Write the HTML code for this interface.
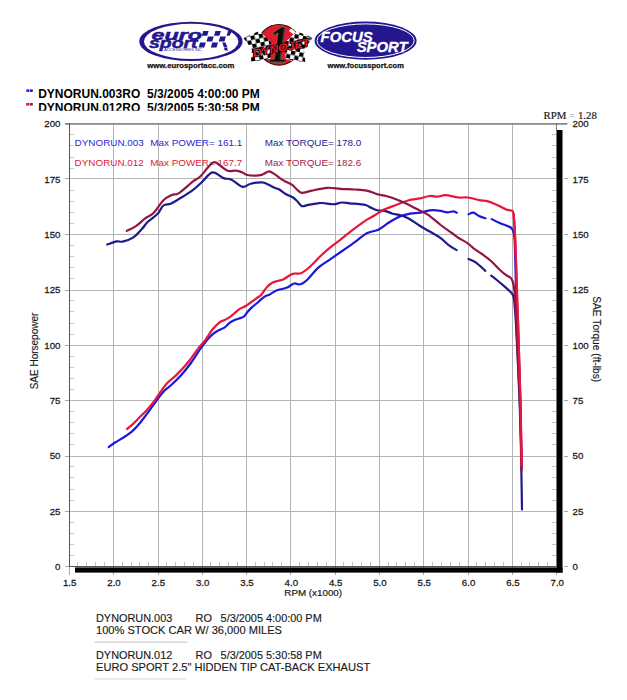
<!DOCTYPE html>
<html><head><meta charset="utf-8"><title>Dyno Chart</title>
<style>
html,body{margin:0;padding:0;background:#fff;}
body{width:627px;height:700px;overflow:hidden;position:relative;}
svg{position:absolute;left:0;top:0;display:block;}
</style></head><body>
<svg width="627" height="700" viewBox="0 0 627 700" font-family="'Liberation Sans', Arial, sans-serif">
<rect width="627" height="700" fill="#fff"/>
<g id="logos">
<!-- eurosport -->
<ellipse cx="190.9" cy="41.4" rx="51.6" ry="19.7" fill="#24168e"/>
<ellipse cx="191.2" cy="41.4" rx="47.2" ry="17.6" fill="#fff"/>
<g fill="#24168e" stroke="#24168e" stroke-width="0.5" font-weight="bold" font-style="italic" font-family="'Liberation Sans', sans-serif">
<text x="151.6" y="39.6" font-size="15" textLength="50.5" lengthAdjust="spacingAndGlyphs">euro</text>
<text x="149" y="47.8" font-size="14.5" textLength="48.5" lengthAdjust="spacingAndGlyphs">sport</text>
</g>
<text x="164" y="51" font-size="2.8" fill="#24168e" textLength="38" lengthAdjust="spacingAndGlyphs">ACCESSORIES INC</text>
<g fill="#24168e">
<polygon points="201.8,35.8 203.2,31.1 208.6,31.1 207.2,35.8"/>
<polygon points="214,35.8 215.4,31.1 220.8,31.1 219.4,35.8"/>
<polygon points="226.6,35.8 228,31 232.2,31 229.5,35.8"/>
<polygon points="206.5,41.5 208,36.5 213.7,36.5 212.2,41.5"/>
<polygon points="218.7,41.5 220.2,36.5 225.9,36.5 224.4,41.5"/>
<polygon points="198.6,47.6 200.1,42.6 205.8,42.6 204.3,47.6"/>
<polygon points="210.8,47.6 212.3,42.6 218,42.6 216.5,47.6"/>
<polygon points="222.3,42.6 225.5,42.6 227.6,47.6 224,47.6"/>
<polygon points="224,48 227.2,48 228,50.5 224.8,50.5"/>
</g>
<text x="147.3" y="68.4" font-size="7.7" font-weight="bold" fill="#111" stroke="#111" stroke-width="0.25" textLength="87" lengthAdjust="spacingAndGlyphs">www.eurosportacc.com</text>
<!-- dynojet -->
<defs><clipPath id="ov"><ellipse cx="279" cy="44.8" rx="21" ry="20.2"/></clipPath>
<pattern id="chk" width="8.4" height="8.4" patternUnits="userSpaceOnUse"><rect width="8.4" height="8.4" fill="#fff"/><rect width="4.2" height="4.2" fill="#000"/><rect x="4.2" y="4.2" width="4.2" height="4.2" fill="#000"/></pattern></defs>
<ellipse cx="279" cy="44.8" rx="21.1" ry="20.3" fill="#e01a2e" stroke="#3a0a0a" stroke-width="1.1"/>
<g clip-path="url(#ov)" fill="#fff">
<polygon points="256,33 262,26 266,27 259,36"/>
<polygon points="292,27 298,31 296,36 289,31"/>
<polygon points="258,56 264,52 266,57 261,61"/>
<polygon points="290,60 296,53 299,56 293,63"/>
</g>
<polygon points="245,34 262,30.5 271,44 267,60 247,59 251,47" fill="url(#chk)" transform="translate(0.5,1) rotate(-12 258 45)"/>
<polygon points="312,33.5 295,30.5 286,44 290,60 310,59 306,47" fill="url(#chk)" transform="translate(-1.5,1) rotate(12 298 45)"/>
<text x="0" y="0" font-size="50" font-weight="bold" font-style="italic" font-family="'Liberation Serif', serif" fill="#0a0a0a" stroke="#2f6a3a" stroke-width="0.8" text-anchor="middle" transform="translate(278.5,61.8) scale(0.85,1.05)">1</text>
<text x="281" y="51.5" font-size="11" font-weight="bold" font-style="italic" fill="#e01a2e" stroke="#000" stroke-width="1.4" paint-order="stroke" text-anchor="middle" transform="rotate(-11 281 47)" textLength="58" lengthAdjust="spacingAndGlyphs">DYNOJET</text>
<!-- focus sport -->
<ellipse cx="365.6" cy="40.7" rx="51" ry="19.1" fill="#24168e"/>
<ellipse cx="365.6" cy="40.7" rx="48.6" ry="16.8" fill="none" stroke="#fff" stroke-width="1"/>
<g fill="#fff" stroke="#fff" stroke-width="0.3" font-weight="bold" font-style="italic">
<text x="320.6" y="41.8" font-size="14.5" textLength="52" lengthAdjust="spacingAndGlyphs">FOCUS</text>
<text x="356.7" y="51.8" font-size="15" textLength="51" lengthAdjust="spacingAndGlyphs">SPORT</text>
</g>
<text x="327.5" y="68.4" font-size="7.7" font-weight="bold" fill="#111" stroke="#111" stroke-width="0.25" textLength="76.4" lengthAdjust="spacingAndGlyphs">www.focussport.com</text>
</g>
<defs><clipPath id="hclip"><rect x="0" y="99" width="627" height="11.8"/></clipPath></defs>
<g id="header" font-weight="bold" font-size="12" fill="#000">
<rect x="26.4" y="89.4" width="2.9" height="2.5" fill="#1818e8"/><rect x="29.9" y="89.4" width="2.9" height="2.5" fill="#1818e8"/>
<rect x="26.2" y="103" width="3" height="2.6" fill="#e41030"/><rect x="29.8" y="103" width="3" height="2.6" fill="#b01040"/>
<text x="38.2" y="98">DYNORUN.003RO</text><text x="147.1" y="98">5/3/2005 4:00:00 PM</text>
<g clip-path="url(#hclip)"><text x="38.2" y="111.5">DYNORUN.012RO</text><text x="147.1" y="111.5">5/3/2005 5:30:58 PM</text></g>
</g>
<g id="grid" stroke="#b4b4b4" stroke-width="1"><line x1="113.5" y1="124" x2="113.5" y2="566"/><line x1="158.5" y1="124" x2="158.5" y2="566"/><line x1="202.5" y1="124" x2="202.5" y2="566"/><line x1="246.5" y1="124" x2="246.5" y2="566"/><line x1="290.5" y1="124" x2="290.5" y2="566"/><line x1="335.5" y1="124" x2="335.5" y2="566"/><line x1="379.5" y1="124" x2="379.5" y2="566"/><line x1="423.5" y1="124" x2="423.5" y2="566"/><line x1="468.5" y1="124" x2="468.5" y2="566"/><line x1="512.5" y1="124" x2="512.5" y2="566"/><line x1="69" y1="511.5" x2="556.5" y2="511.5"/><line x1="69" y1="456.5" x2="556.5" y2="456.5"/><line x1="69" y1="400.5" x2="556.5" y2="400.5"/><line x1="69" y1="345.5" x2="556.5" y2="345.5"/><line x1="69" y1="290.5" x2="556.5" y2="290.5"/><line x1="69" y1="234.5" x2="556.5" y2="234.5"/><line x1="69" y1="178.5" x2="556.5" y2="178.5"/></g>
<g id="minor" stroke="#c4c4c4" stroke-width="1"><line x1="77.5" y1="562" x2="77.5" y2="566"/><line x1="86.5" y1="562" x2="86.5" y2="566"/><line x1="95.5" y1="562" x2="95.5" y2="566"/><line x1="104.5" y1="562" x2="104.5" y2="566"/><line x1="122.5" y1="562" x2="122.5" y2="566"/><line x1="131.5" y1="562" x2="131.5" y2="566"/><line x1="139.5" y1="562" x2="139.5" y2="566"/><line x1="148.5" y1="562" x2="148.5" y2="566"/><line x1="166.5" y1="562" x2="166.5" y2="566"/><line x1="175.5" y1="562" x2="175.5" y2="566"/><line x1="184.5" y1="562" x2="184.5" y2="566"/><line x1="193.5" y1="562" x2="193.5" y2="566"/><line x1="210.5" y1="562" x2="210.5" y2="566"/><line x1="219.5" y1="562" x2="219.5" y2="566"/><line x1="228.5" y1="562" x2="228.5" y2="566"/><line x1="237.5" y1="562" x2="237.5" y2="566"/><line x1="255.5" y1="562" x2="255.5" y2="566"/><line x1="264.5" y1="562" x2="264.5" y2="566"/><line x1="272.5" y1="562" x2="272.5" y2="566"/><line x1="281.5" y1="562" x2="281.5" y2="566"/><line x1="299.5" y1="562" x2="299.5" y2="566"/><line x1="308.5" y1="562" x2="308.5" y2="566"/><line x1="317.5" y1="562" x2="317.5" y2="566"/><line x1="326.5" y1="562" x2="326.5" y2="566"/><line x1="343.5" y1="562" x2="343.5" y2="566"/><line x1="352.5" y1="562" x2="352.5" y2="566"/><line x1="361.5" y1="562" x2="361.5" y2="566"/><line x1="370.5" y1="562" x2="370.5" y2="566"/><line x1="388.5" y1="562" x2="388.5" y2="566"/><line x1="396.5" y1="562" x2="396.5" y2="566"/><line x1="405.5" y1="562" x2="405.5" y2="566"/><line x1="414.5" y1="562" x2="414.5" y2="566"/><line x1="432.5" y1="562" x2="432.5" y2="566"/><line x1="441.5" y1="562" x2="441.5" y2="566"/><line x1="450.5" y1="562" x2="450.5" y2="566"/><line x1="459.5" y1="562" x2="459.5" y2="566"/><line x1="476.5" y1="562" x2="476.5" y2="566"/><line x1="485.5" y1="562" x2="485.5" y2="566"/><line x1="494.5" y1="562" x2="494.5" y2="566"/><line x1="503.5" y1="562" x2="503.5" y2="566"/><line x1="521.5" y1="562" x2="521.5" y2="566"/><line x1="529.5" y1="562" x2="529.5" y2="566"/><line x1="538.5" y1="562" x2="538.5" y2="566"/><line x1="547.5" y1="562" x2="547.5" y2="566"/><line x1="70" y1="555.5" x2="74" y2="555.5"/><line x1="552" y1="555.5" x2="556" y2="555.5"/><line x1="70" y1="544.5" x2="74" y2="544.5"/><line x1="552" y1="544.5" x2="556" y2="544.5"/><line x1="70" y1="533.5" x2="74" y2="533.5"/><line x1="552" y1="533.5" x2="556" y2="533.5"/><line x1="70" y1="522.5" x2="74" y2="522.5"/><line x1="552" y1="522.5" x2="556" y2="522.5"/><line x1="70" y1="500.5" x2="74" y2="500.5"/><line x1="552" y1="500.5" x2="556" y2="500.5"/><line x1="70" y1="489.5" x2="74" y2="489.5"/><line x1="552" y1="489.5" x2="556" y2="489.5"/><line x1="70" y1="477.5" x2="74" y2="477.5"/><line x1="552" y1="477.5" x2="556" y2="477.5"/><line x1="70" y1="466.5" x2="74" y2="466.5"/><line x1="552" y1="466.5" x2="556" y2="466.5"/><line x1="70" y1="444.5" x2="74" y2="444.5"/><line x1="552" y1="444.5" x2="556" y2="444.5"/><line x1="70" y1="433.5" x2="74" y2="433.5"/><line x1="552" y1="433.5" x2="556" y2="433.5"/><line x1="70" y1="422.5" x2="74" y2="422.5"/><line x1="552" y1="422.5" x2="556" y2="422.5"/><line x1="70" y1="411.5" x2="74" y2="411.5"/><line x1="552" y1="411.5" x2="556" y2="411.5"/><line x1="70" y1="389.5" x2="74" y2="389.5"/><line x1="552" y1="389.5" x2="556" y2="389.5"/><line x1="70" y1="378.5" x2="74" y2="378.5"/><line x1="552" y1="378.5" x2="556" y2="378.5"/><line x1="70" y1="367.5" x2="74" y2="367.5"/><line x1="552" y1="367.5" x2="556" y2="367.5"/><line x1="70" y1="356.5" x2="74" y2="356.5"/><line x1="552" y1="356.5" x2="556" y2="356.5"/><line x1="70" y1="334.5" x2="74" y2="334.5"/><line x1="552" y1="334.5" x2="556" y2="334.5"/><line x1="70" y1="323.5" x2="74" y2="323.5"/><line x1="552" y1="323.5" x2="556" y2="323.5"/><line x1="70" y1="311.5" x2="74" y2="311.5"/><line x1="552" y1="311.5" x2="556" y2="311.5"/><line x1="70" y1="300.5" x2="74" y2="300.5"/><line x1="552" y1="300.5" x2="556" y2="300.5"/><line x1="70" y1="278.5" x2="74" y2="278.5"/><line x1="552" y1="278.5" x2="556" y2="278.5"/><line x1="70" y1="267.5" x2="74" y2="267.5"/><line x1="552" y1="267.5" x2="556" y2="267.5"/><line x1="70" y1="256.5" x2="74" y2="256.5"/><line x1="552" y1="256.5" x2="556" y2="256.5"/><line x1="70" y1="245.5" x2="74" y2="245.5"/><line x1="552" y1="245.5" x2="556" y2="245.5"/><line x1="70" y1="223.5" x2="74" y2="223.5"/><line x1="552" y1="223.5" x2="556" y2="223.5"/><line x1="70" y1="212.5" x2="74" y2="212.5"/><line x1="552" y1="212.5" x2="556" y2="212.5"/><line x1="70" y1="201.5" x2="74" y2="201.5"/><line x1="552" y1="201.5" x2="556" y2="201.5"/><line x1="70" y1="190.5" x2="74" y2="190.5"/><line x1="552" y1="190.5" x2="556" y2="190.5"/><line x1="70" y1="168.5" x2="74" y2="168.5"/><line x1="552" y1="168.5" x2="556" y2="168.5"/><line x1="70" y1="157.5" x2="74" y2="157.5"/><line x1="552" y1="157.5" x2="556" y2="157.5"/><line x1="70" y1="145.5" x2="74" y2="145.5"/><line x1="552" y1="145.5" x2="556" y2="145.5"/><line x1="70" y1="134.5" x2="74" y2="134.5"/><line x1="552" y1="134.5" x2="556" y2="134.5"/></g>
<g id="major" stroke="#a8a8a8" stroke-width="1"><line x1="65" y1="511.5" x2="69" y2="511.5"/><line x1="564" y1="511.5" x2="568" y2="511.5"/><line x1="65" y1="456.5" x2="69" y2="456.5"/><line x1="564" y1="456.5" x2="568" y2="456.5"/><line x1="65" y1="400.5" x2="69" y2="400.5"/><line x1="564" y1="400.5" x2="568" y2="400.5"/><line x1="65" y1="345.5" x2="69" y2="345.5"/><line x1="564" y1="345.5" x2="568" y2="345.5"/><line x1="65" y1="290.5" x2="69" y2="290.5"/><line x1="564" y1="290.5" x2="568" y2="290.5"/><line x1="65" y1="234.5" x2="69" y2="234.5"/><line x1="564" y1="234.5" x2="568" y2="234.5"/><line x1="65" y1="178.5" x2="69" y2="178.5"/><line x1="564" y1="178.5" x2="568" y2="178.5"/><line x1="65" y1="566.5" x2="69" y2="566.5"/><line x1="564" y1="566.5" x2="568" y2="566.5"/><line x1="65" y1="123.5" x2="69" y2="123.5"/><line x1="564" y1="123.5" x2="568" y2="123.5"/><line x1="69.5" y1="566" x2="69.5" y2="575"/><line x1="113.5" y1="566" x2="113.5" y2="575"/><line x1="158.5" y1="566" x2="158.5" y2="575"/><line x1="202.5" y1="566" x2="202.5" y2="575"/><line x1="246.5" y1="566" x2="246.5" y2="575"/><line x1="290.5" y1="566" x2="290.5" y2="575"/><line x1="335.5" y1="566" x2="335.5" y2="575"/><line x1="379.5" y1="566" x2="379.5" y2="575"/><line x1="423.5" y1="566" x2="423.5" y2="575"/><line x1="468.5" y1="566" x2="468.5" y2="575"/><line x1="512.5" y1="566" x2="512.5" y2="575"/><line x1="556.5" y1="566" x2="556.5" y2="575"/></g>
<rect x="65" y="123" width="502" height="1.8" fill="#8c8c8c"/>
<rect x="69" y="123" width="1" height="444" fill="#555"/>
<rect x="69" y="566" width="488" height="1" fill="#555"/>
<rect x="556" y="123" width="1" height="444" fill="#777"/>
<rect x="75" y="567.4" width="487.5" height="5.2" fill="#000"/>
<rect x="557" y="130" width="5.5" height="442.5" fill="#000"/>
<g id="legend" font-size="9.9">
<text transform="translate(74.6,145.6) scale(1,0.92)" fill="#2828d8">DYNORUN.003</text>
<text transform="translate(150.2,145.6) scale(1,0.92)" fill="#2828d8">Max POWER= 161.1</text>
<text transform="translate(264.7,145.6) scale(1,0.92)" fill="#25218e">Max TORQUE= 178.0</text>
<text transform="translate(74.6,165.6) scale(1,0.92)" fill="#e0203c">DYNORUN.012</text>
<text transform="translate(150.2,165.6) scale(1,0.92)" fill="#e0203c">Max POWER= 167.7</text>
<text transform="translate(264.7,165.6) scale(1,0.92)" fill="#a82050">Max TORQUE= 182.6</text>
</g>
<g fill="none" stroke-width="2.2" stroke-linejoin="round" stroke-linecap="round">
<path d="M108.8 447.0 C109.9 446.2 113.0 443.9 115.5 442.3 C118.0 440.7 120.8 439.2 123.5 437.5 C126.2 435.8 129.1 433.9 131.5 431.9 C133.9 429.9 135.7 427.9 137.8 425.5 C139.9 423.1 142.1 420.3 144.2 417.5 C146.3 414.7 148.5 411.7 150.6 408.8 C152.7 405.9 154.7 403.1 157.0 400.0 C159.3 396.9 162.1 393.1 164.6 390.5 C167.1 387.9 169.0 387.1 171.8 384.5 C174.6 381.9 178.1 378.5 181.3 374.9 C184.5 371.3 187.7 367.4 190.9 363.0 C194.1 358.6 197.3 353.0 200.5 348.6 C203.7 344.2 207.2 339.6 210.0 336.7 C212.8 333.8 214.8 332.6 217.2 331.1 C219.6 329.6 222.3 329.0 224.4 327.6 C226.5 326.2 228.1 324.0 229.8 322.7 C231.5 321.4 232.7 320.7 234.6 319.9 C236.5 319.1 239.4 318.5 241.0 317.9 C242.6 317.3 243.0 317.2 244.1 316.3 C245.2 315.4 246.1 313.7 247.3 312.3 C248.5 310.9 249.7 309.4 251.3 307.9 C252.9 306.4 255.2 304.7 256.9 303.2 C258.6 301.7 260.2 300.0 261.7 298.8 C263.2 297.6 264.4 296.7 265.7 296.0 C267.0 295.3 268.1 295.2 269.7 294.4 C271.2 293.6 273.6 291.9 275.0 291.2 C276.4 290.4 276.9 290.3 278.3 289.9 C279.7 289.5 281.5 289.2 283.1 288.8 C284.7 288.4 286.0 288.1 287.8 287.2 C289.6 286.3 292.3 283.9 294.2 283.5 C296.1 283.1 297.7 284.5 299.0 284.5 C300.3 284.5 300.9 284.2 302.2 283.5 C303.5 282.8 304.2 282.7 307.0 280.0 C309.8 277.3 314.9 270.7 318.9 267.2 C322.9 263.7 326.9 261.7 330.9 258.9 C334.9 256.1 338.9 253.3 342.9 250.5 C346.9 247.7 350.8 245.0 354.8 242.1 C358.8 239.2 362.9 235.4 366.8 233.3 C370.7 231.2 374.8 231.4 378.3 229.7 C381.8 228.0 385.1 225.0 387.8 223.3 C390.5 221.6 392.3 220.5 394.4 219.3 C396.5 218.1 398.0 217.0 400.6 216.1 C403.2 215.2 407.0 214.3 410.2 213.7 C413.4 213.1 416.8 213.3 420.0 212.7 C423.2 212.1 426.4 210.7 429.6 210.3 C432.8 210.0 436.2 210.2 439.1 210.6 C442.0 210.9 444.7 212.3 447.1 212.4 C449.5 212.5 451.9 211.2 453.5 211.3 C455.1 211.4 456.2 212.6 456.7 212.8 M468.6 214.3 C469.4 214.0 471.7 212.4 473.4 212.7 C475.1 213.0 477.0 215.0 479.0 215.9 C481.0 216.8 484.3 217.9 485.4 218.3 M491.8 219.1 C493.1 219.8 497.3 222.0 499.7 223.1 C502.1 224.2 504.2 224.7 506.1 225.5 C508.0 226.3 510.0 226.8 511.2 227.8 C512.4 228.8 512.7 229.5 513.3 231.5 C513.9 233.5 514.2 233.6 514.6 240.0 C515.0 246.4 515.2 260.0 515.5 270.0 C515.8 280.0 515.9 290.0 516.3 300.0 C516.7 310.0 517.1 313.3 517.8 330.0 C518.4 346.7 519.7 381.7 520.2 400.0 C520.7 418.3 520.8 428.7 521.0 440.0 C521.2 451.3 521.4 463.3 521.5 468.0" stroke="#1c18d8"/>
<path d="M107.2 244.5 C108.8 244.0 114.1 241.9 116.7 241.4 C119.3 240.9 119.9 242.3 122.7 241.6 C125.5 240.9 130.3 239.4 133.5 237.3 C136.7 235.2 139.5 231.6 141.9 229.0 C144.3 226.4 145.2 224.3 147.8 221.8 C150.4 219.3 154.8 216.8 157.4 214.1 C160.0 211.4 161.2 207.2 163.4 205.5 C165.6 203.8 168.0 204.9 170.6 203.8 C173.2 202.7 175.4 201.2 179.0 199.0 C182.6 196.8 188.3 193.5 192.1 190.7 C195.9 187.9 198.3 185.4 201.7 182.3 C205.1 179.2 208.8 173.1 212.4 172.4 C216.0 171.7 220.3 176.9 223.5 178.1 C226.7 179.3 228.3 178.2 231.5 179.7 C234.7 181.2 239.4 186.2 242.6 186.9 C245.8 187.6 247.4 184.4 250.6 183.7 C253.8 182.9 258.9 182.3 261.8 182.4 C264.7 182.5 266.0 183.6 268.1 184.5 C270.2 185.4 272.6 186.8 274.5 187.7 C276.4 188.6 277.7 188.6 279.6 189.7 C281.5 190.8 283.9 193.1 286.0 194.3 C288.1 195.5 290.4 195.9 292.3 197.0 C294.2 198.1 295.5 199.5 297.1 201.0 C298.7 202.5 300.0 205.4 301.9 206.1 C303.8 206.8 305.6 205.4 308.3 204.9 C311.0 204.4 315.4 203.6 317.8 203.3 C320.2 203.0 320.5 202.9 322.6 203.0 C324.7 203.1 328.5 203.9 330.6 204.1 C332.7 204.3 333.5 204.4 335.4 204.1 C337.3 203.8 339.4 202.6 341.8 202.5 C344.2 202.4 346.8 203.0 349.7 203.3 C352.6 203.6 356.6 203.8 359.3 204.1 C362.0 204.4 363.6 204.3 365.7 205.0 C367.8 205.7 369.8 207.2 371.9 208.1 C374.0 209.0 376.2 210.1 378.3 210.5 C380.4 210.9 382.3 210.3 384.7 210.8 C387.1 211.3 390.0 212.9 392.6 213.7 C395.2 214.4 397.9 214.5 400.6 215.3 C403.3 216.1 405.4 216.8 408.6 218.5 C411.8 220.2 416.2 223.6 419.7 225.7 C423.1 227.8 425.9 229.3 429.3 231.3 C432.7 233.3 436.6 235.2 440.0 237.6 C443.4 240.0 446.6 243.6 449.4 245.7 C452.2 247.8 455.4 249.3 456.6 250.0 M468.5 258.9 C469.7 259.5 472.9 260.4 475.7 262.4 C478.5 264.4 483.7 269.4 485.3 270.8 M491.2 275.6 C492.1 276.3 494.6 278.2 496.8 280.0 C499.0 281.8 502.2 284.5 504.4 286.4 C506.6 288.3 508.6 290.1 510.0 291.5 C511.4 292.9 511.9 293.2 512.6 294.5 C513.3 295.8 513.6 296.4 514.0 299.0 C514.4 301.6 514.6 304.8 515.0 310.0 C515.4 315.2 515.5 315.0 516.3 330.0 C517.0 345.0 518.8 381.7 519.5 400.0 C520.2 418.3 520.4 421.8 520.8 440.0 C521.2 458.2 521.8 497.9 522.0 509.5" stroke="#1e1a8c"/>
<path d="M127.0 429.0 C128.0 428.1 131.0 425.8 133.1 423.9 C135.2 422.0 137.3 419.6 139.4 417.5 C141.5 415.4 143.4 413.8 145.8 411.2 C148.2 408.6 151.9 404.1 153.8 401.6 C155.7 399.2 155.2 399.6 157.4 396.5 C159.6 393.4 163.8 386.9 167.0 383.3 C170.2 379.7 173.0 378.5 176.6 374.9 C180.2 371.3 184.9 366.2 188.5 361.8 C192.1 357.4 195.3 352.2 198.1 348.6 C200.9 345.0 202.9 343.4 205.3 340.2 C207.7 337.0 210.0 332.5 212.4 329.5 C214.8 326.5 217.5 323.9 219.6 322.3 C221.7 320.7 223.3 320.8 225.0 319.9 C226.7 319.0 228.2 318.2 229.8 317.1 C231.4 316.0 233.0 314.4 234.6 313.1 C236.2 311.8 237.6 310.3 239.4 309.1 C241.2 307.9 243.7 307.2 245.7 306.0 C247.7 304.8 249.4 303.3 251.3 302.0 C253.2 300.7 255.3 299.1 256.9 298.0 C258.5 296.9 259.7 296.4 260.9 295.2 C262.1 294.0 263.0 292.2 264.1 290.8 C265.2 289.4 266.2 287.8 267.5 286.5 C268.8 285.2 270.1 283.8 271.9 282.9 C273.7 281.9 276.4 281.4 278.3 280.8 C280.2 280.2 280.7 280.6 283.1 279.5 C285.5 278.4 289.6 274.9 292.6 273.9 C295.6 272.8 298.2 274.3 301.0 273.2 C303.8 272.1 306.0 270.2 309.4 267.2 C312.8 264.2 317.7 258.7 321.3 255.3 C324.9 251.9 327.7 249.5 330.9 246.9 C334.1 244.3 336.9 242.5 340.5 239.7 C344.1 236.9 348.4 233.2 352.4 230.1 C356.4 227.0 360.8 223.7 364.4 221.3 C368.0 218.9 370.8 217.7 374.0 215.8 C377.2 213.9 380.9 211.2 383.5 209.8 C386.1 208.4 387.0 208.4 389.6 207.4 C392.2 206.4 395.9 205.0 399.1 203.8 C402.3 202.6 405.2 201.1 408.7 200.2 C412.2 199.3 416.5 199.0 420.0 198.3 C423.5 197.6 426.7 196.3 429.6 196.0 C432.5 195.7 434.9 196.8 437.5 196.7 C440.1 196.6 442.0 195.1 445.5 195.2 C449.0 195.3 454.6 197.1 458.3 197.5 C462.0 197.9 464.1 197.0 467.8 197.5 C471.5 198.0 477.4 199.8 480.6 200.4 C483.8 201.0 484.3 200.4 487.0 201.1 C489.7 201.8 493.4 203.3 496.6 204.7 C499.8 206.1 503.7 208.5 506.1 209.5 C508.5 210.5 509.9 209.8 511.2 210.6 C512.5 211.3 513.0 209.9 513.6 214.0 C514.2 218.1 514.5 225.7 515.0 235.0 C515.5 244.3 515.9 259.2 516.3 270.0 C516.7 280.8 516.9 290.0 517.2 300.0 C517.5 310.0 517.8 313.3 518.3 330.0 C518.8 346.7 519.9 381.7 520.4 400.0 C520.9 418.3 521.0 429.0 521.2 440.0 C521.4 451.0 521.5 461.7 521.6 466.0" stroke="#e8163c"/>
<path d="M126.8 230.9 C128.3 230.1 132.8 228.2 135.9 226.1 C139.0 224.0 142.5 220.4 145.5 218.2 C148.5 216.0 150.8 215.7 153.8 212.7 C156.8 209.7 160.4 203.1 163.4 200.2 C166.4 197.2 169.2 196.2 171.8 195.0 C174.4 193.8 175.4 195.4 179.0 193.1 C182.6 190.8 189.7 183.9 193.3 181.1 C196.9 178.3 197.2 179.4 200.5 176.3 C203.8 173.2 209.5 164.0 213.1 162.4 C216.7 160.8 219.4 165.6 221.9 167.0 C224.4 168.4 225.9 170.4 228.3 171.0 C230.7 171.6 233.9 170.3 236.3 170.6 C238.7 170.8 240.8 171.8 242.6 172.5 C244.4 173.2 244.7 174.5 247.4 175.0 C250.1 175.5 255.9 175.6 258.6 175.4 C261.3 175.2 261.7 174.8 263.4 174.1 C265.1 173.4 267.1 171.4 269.0 171.4 C270.9 171.4 272.5 172.8 274.5 174.1 C276.5 175.3 279.0 177.6 280.9 178.9 C282.8 180.2 284.1 180.7 286.0 181.7 C287.9 182.7 290.4 183.6 292.3 184.9 C294.2 186.2 295.5 188.4 297.1 189.7 C298.7 191.0 299.4 192.7 301.9 192.9 C304.3 193.1 307.6 191.5 311.8 190.7 C316.0 189.8 322.5 188.1 327.3 187.8 C332.1 187.5 335.9 188.5 340.5 188.8 C345.1 189.1 350.4 189.2 354.8 189.5 C359.2 189.8 363.0 189.9 366.8 190.7 C370.6 191.5 374.4 193.4 377.6 194.3 C380.8 195.2 383.5 195.4 385.9 196.0 C388.3 196.6 389.0 196.7 392.0 197.8 C395.0 198.9 399.9 200.8 403.9 202.6 C407.9 204.4 411.9 206.6 415.9 208.6 C419.9 210.6 423.7 211.9 427.8 214.6 C431.9 217.3 436.7 221.9 440.7 225.0 C444.7 228.1 449.0 230.9 451.9 233.0 C454.8 235.1 455.6 236.1 458.3 237.8 C461.0 239.5 465.2 241.5 467.8 243.3 C470.4 245.2 471.5 246.9 474.2 248.9 C476.9 250.9 480.9 253.2 483.8 255.3 C486.7 257.4 489.2 259.3 491.8 261.7 C494.4 264.1 497.3 267.4 499.7 269.7 C502.1 271.9 504.2 273.8 506.1 275.2 C508.0 276.6 509.9 276.8 511.2 278.4 C512.5 280.0 512.9 281.4 513.6 285.0 C514.3 288.6 514.7 292.5 515.2 300.0 C515.7 307.5 515.8 313.3 516.6 330.0 C517.4 346.7 519.1 381.7 519.8 400.0 C520.5 418.3 520.7 428.2 521.0 440.0 C521.3 451.8 521.4 465.8 521.5 471.0" stroke="#921444"/>
<path d="M513.6 214.0 C513.8 217.5 514.5 225.7 515.0 235.0 C515.5 244.3 515.9 259.2 516.3 270.0 C516.7 280.8 516.9 290.0 517.2 300.0 C517.5 310.0 517.8 313.3 518.3 330.0 C518.8 346.7 519.9 381.7 520.4 400.0 C520.9 418.3 521.0 429.0 521.2 440.0 C521.4 451.0 521.5 461.7 521.6 466.0" stroke="#e8163c"/>
</g>
<g id="labels" font-size="9.7" fill="#1a1a1a" stroke="#1a1a1a" stroke-width="0.25"><text transform="translate(60.5,570.10) scale(1,1.02)" text-anchor="end">0</text><text transform="translate(572.6,570.10) scale(1,1.02)">0</text><text transform="translate(60.5,514.76) scale(1,1.02)" text-anchor="end">25</text><text transform="translate(572.6,514.76) scale(1,1.02)">25</text><text transform="translate(60.5,459.43) scale(1,1.02)" text-anchor="end">50</text><text transform="translate(572.6,459.43) scale(1,1.02)">50</text><text transform="translate(60.5,404.09) scale(1,1.02)" text-anchor="end">75</text><text transform="translate(572.6,404.09) scale(1,1.02)">75</text><text transform="translate(60.5,348.75) scale(1,1.02)" text-anchor="end">100</text><text transform="translate(572.6,348.75) scale(1,1.02)">100</text><text transform="translate(60.5,293.41) scale(1,1.02)" text-anchor="end">125</text><text transform="translate(572.6,293.41) scale(1,1.02)">125</text><text transform="translate(60.5,238.07) scale(1,1.02)" text-anchor="end">150</text><text transform="translate(572.6,238.07) scale(1,1.02)">150</text><text transform="translate(60.5,182.74) scale(1,1.02)" text-anchor="end">175</text><text transform="translate(572.6,182.74) scale(1,1.02)">175</text><text transform="translate(60.5,127.10) scale(1,1.02)" text-anchor="end">200</text><text transform="translate(572.6,127.10) scale(1,1.02)">200</text><text transform="translate(69.70,586.4) scale(1,1.02)" text-anchor="middle">1.5</text><text transform="translate(114.02,586.4) scale(1,1.02)" text-anchor="middle">2.0</text><text transform="translate(158.34,586.4) scale(1,1.02)" text-anchor="middle">2.5</text><text transform="translate(202.66,586.4) scale(1,1.02)" text-anchor="middle">3.0</text><text transform="translate(246.98,586.4) scale(1,1.02)" text-anchor="middle">3.5</text><text transform="translate(291.30,586.4) scale(1,1.02)" text-anchor="middle">4.0</text><text transform="translate(335.62,586.4) scale(1,1.02)" text-anchor="middle">4.5</text><text transform="translate(379.94,586.4) scale(1,1.02)" text-anchor="middle">5.0</text><text transform="translate(424.26,586.4) scale(1,1.02)" text-anchor="middle">5.5</text><text transform="translate(468.58,586.4) scale(1,1.02)" text-anchor="middle">6.0</text><text transform="translate(512.90,586.4) scale(1,1.02)" text-anchor="middle">6.5</text><text transform="translate(557.22,586.4) scale(1,1.02)" text-anchor="middle">7.0</text></g>
<text x="313.2" y="596.1" font-size="9.8" fill="#1a1a1a" stroke="#1a1a1a" stroke-width="0.2" text-anchor="middle">RPM (x1000)</text>
<text transform="translate(38,351) rotate(-90)" font-size="10" fill="#1a1a1a" stroke="#1a1a1a" stroke-width="0.15" text-anchor="middle">SAE Horsepower</text>
<text transform="translate(592.8,339.2) rotate(90)" font-size="10.2" fill="#1a1a1a" stroke="#1a1a1a" stroke-width="0.15" text-anchor="middle">SAE Torque (ft-lbs)</text>
<text x="543.6" y="119.4" font-size="10.8" fill="#1a1a1a" stroke="#1a1a1a" stroke-width="0.2" font-family="Liberation Serif, serif">RPM <tspan fill="#a0a0a0" stroke="none">=</tspan> 1.28</text>
<g id="footer" font-size="10.9" fill="#1a1a1a" stroke="#1a1a1a" stroke-width="0.15">
<text x="96" y="622">DYNORUN.003</text><text x="195.6" y="622">RO</text><text x="220.6" y="622">5/3/2005 4:00:00 PM</text>
<text x="96" y="634.2" font-size="11.1">100% STOCK CAR W/ 36,000 MILES</text>
<text x="96" y="658.7">DYNORUN.012</text><text x="195.6" y="658.7">RO</text><text x="220.6" y="658.7">5/3/2005 5:30:58 PM</text>
<text x="96" y="670.6" font-size="11.1">EURO SPORT 2.5" HIDDEN TIP CAT-BACK EXHAUST</text>
</g>
<line x1="94.5" y1="642.2" x2="187.5" y2="642.2" stroke="#cdcdcd" stroke-width="1.3"/>
<line x1="94.5" y1="679" x2="186.5" y2="679" stroke="#d8d8d8" stroke-width="1.1"/>
</svg>
</body></html>
